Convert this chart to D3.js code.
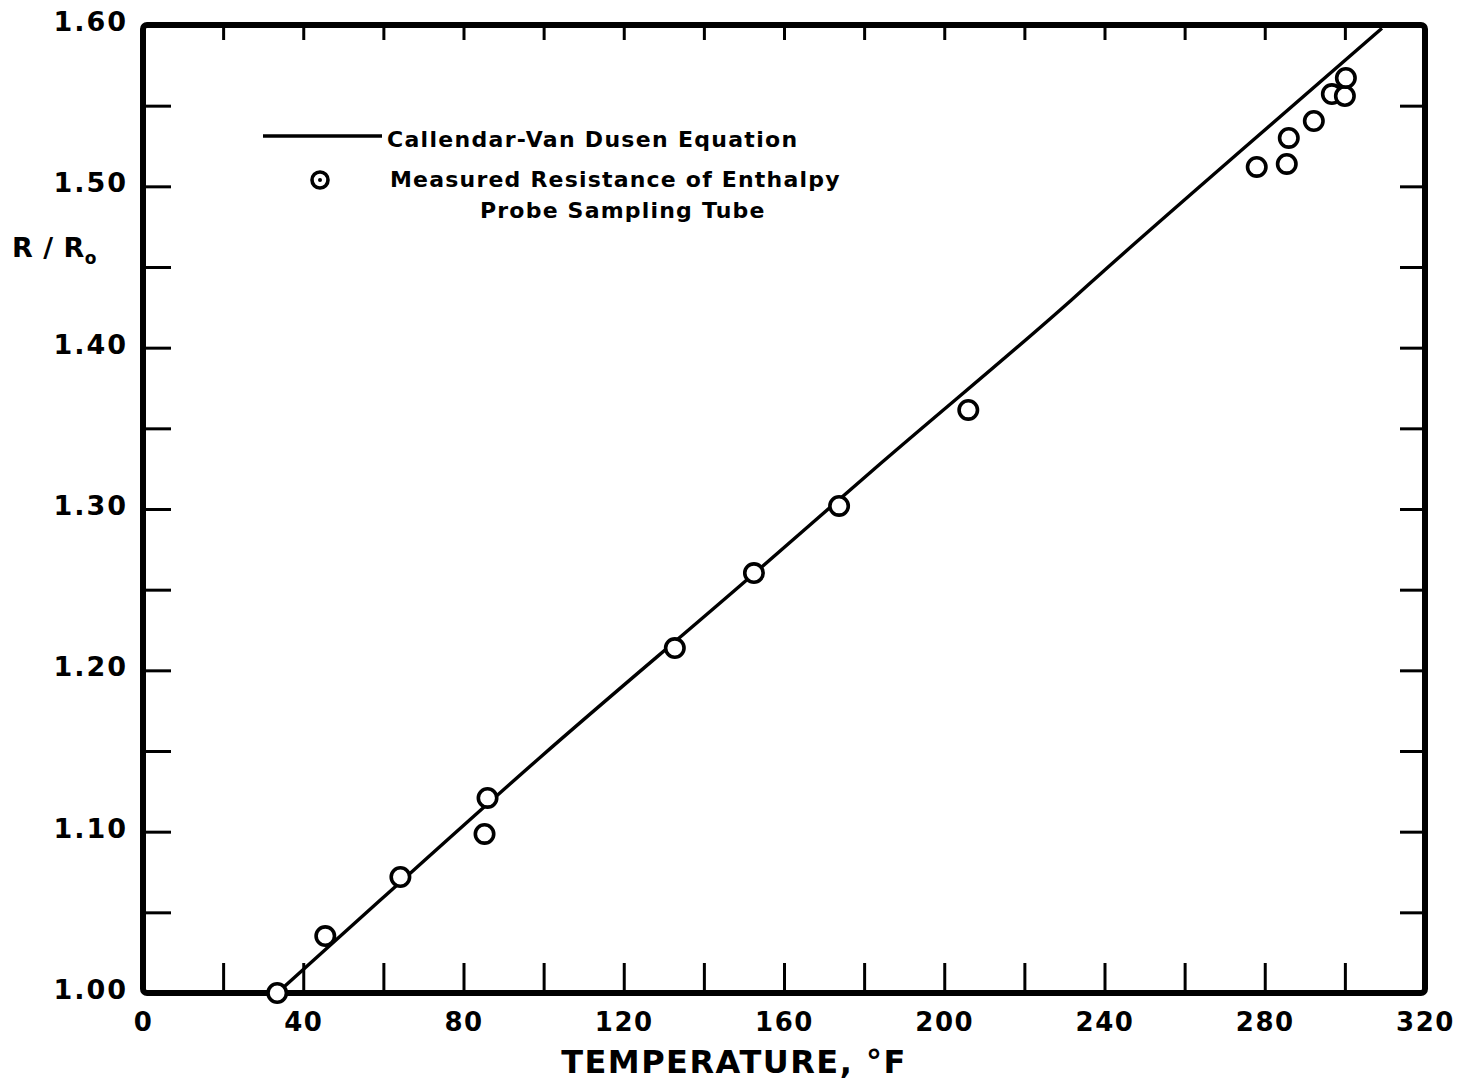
<!DOCTYPE html>
<html>
<head>
<meta charset="utf-8">
<script src="https://cdn.jsdelivr.net/npm/d3@7"></script>
<style>
  html, body { margin: 0; padding: 0; background: #fff; }
  svg { display: block; }
  text { font-family: "DejaVu Sans", "Liberation Sans", sans-serif; font-weight: bold; fill: #000; }
</style>
</head>
<body>
<svg id="chart" width="1461" height="1082"></svg>
<script>
// Callendar-Van Dusen curve, temperature (°F) vs. R/R0
const curveTemp  = [33.5, 59.25, 99.25, 149.25, 184.25, 231.75, 239.25, 274.25, 309.25];
const curveRatio = [1.000, 1.0576, 1.1463, 1.2529, 1.3285, 1.4296, 1.4463, 1.5225, 1.598];

// Measured resistance of the enthalpy probe sampling tube
const measTemp  = [33.5, 45.5, 64.25, 86.0, 85.25, 132.75, 152.5, 173.75, 206.0,
                   278.0, 285.5, 286.0, 292.25, 296.75, 300.0, 300.25];
const measRatio = [1.000, 1.0353, 1.0719, 1.1209, 1.0986, 1.2138, 1.2603, 1.3019, 1.3614,
                   1.512, 1.5139, 1.530, 1.5405, 1.5572, 1.556, 1.5672];

// Axis ticks and labels
const xMinorTicks = [20, 40, 60, 80, 100, 120, 140, 160, 180, 200, 220, 240, 260, 280, 300];
const xLabels     = [0, 40, 80, 120, 160, 200, 240, 280, 320];
const yMinorTicks = [1.05, 1.10, 1.15, 1.20, 1.25, 1.30, 1.35, 1.40, 1.45, 1.50, 1.55];
const yLabels     = [1.00, 1.10, 1.20, 1.30, 1.40, 1.50, 1.60];

const legendEntries = ["Callendar-Van Dusen Equation", "Measured Resistance of Enthalpy", "Probe Sampling Tube"];

const svg = d3.select("#chart");
const plotL = 143, plotR = 1425, plotT = 25, plotB = 993;

const x = d3.scaleLinear().domain([0, 320]).range([plotL, plotR]);
const y = d3.scaleLinear().domain([1.0, 1.6]).range([plotB, plotT]);

// Tick marks on all four sides
function styleTicks(g) {
  g.select(".domain").remove();
  g.selectAll(".tick line").attr("stroke", "#000").attr("stroke-width", 3);
  g.selectAll(".tick text").remove();
}
svg.append("g").attr("transform", `translate(0,${plotB})`)
  .call(d3.axisTop(x).tickValues(xMinorTicks).tickSize(30)).call(styleTicks);
svg.append("g").attr("transform", `translate(0,${plotT})`)
  .call(d3.axisBottom(x).tickValues(xMinorTicks).tickSize(15)).call(styleTicks);
svg.append("g").attr("transform", `translate(${plotL},0)`)
  .call(d3.axisRight(y).tickValues(yMinorTicks).tickSize(28)).call(styleTicks);
svg.append("g").attr("transform", `translate(${plotR},0)`)
  .call(d3.axisLeft(y).tickValues(yMinorTicks).tickSize(25)).call(styleTicks);

// Tick labels
const xl = svg.append("g").attr("transform", `translate(0,${plotB})`)
  .call(d3.axisBottom(x).tickValues(xLabels).tickSize(0).tickPadding(0).tickFormat(d3.format("d")));
xl.select(".domain").remove();
xl.selectAll(".tick text")
  .attr("y", 38).attr("dy", null)
  .attr("font-size", 26).attr("letter-spacing", 1.5)
  .attr("font-family", "'DejaVu Sans', sans-serif").attr("font-weight", "bold").attr("fill", "#000");

const yl = svg.append("g").attr("transform", `translate(${plotL},0)`)
  .call(d3.axisLeft(y).tickValues(yLabels).tickSize(0).tickPadding(15).tickFormat(d3.format(".2f")));
yl.select(".domain").remove();
yl.selectAll(".tick text")
  .attr("dy", "0.2em")
  .attr("font-size", 27).attr("letter-spacing", 2)
  .attr("font-family", "'DejaVu Sans', sans-serif").attr("font-weight", "bold").attr("fill", "#000");

// Plot frame
svg.append("rect")
  .attr("x", plotL).attr("y", plotT)
  .attr("width", plotR - plotL).attr("height", plotB - plotT)
  .attr("rx", 4)
  .attr("fill", "none").attr("stroke", "#000").attr("stroke-width", 6);

// Equation curve
const line = d3.line().x(d => x(d[0])).y(d => y(d[1])).curve(d3.curveMonotoneX);
svg.append("path")
  .datum(curveTemp.map((t, i) => [t, curveRatio[i]]))
  .attr("d", line)
  .attr("fill", "none").attr("stroke", "#000").attr("stroke-width", 3.4);

// Measured points
svg.append("g").selectAll("circle")
  .data(measTemp.map((t, i) => [t, measRatio[i]]))
  .join("circle")
  .attr("cx", d => x(d[0])).attr("cy", d => y(d[1]))
  .attr("r", 9.2)
  .attr("fill", "#fff").attr("stroke", "#000").attr("stroke-width", 3.6);

// Legend
const lg = svg.append("g");
lg.append("line").attr("x1", 263).attr("x2", 382).attr("y1", 136).attr("y2", 136)
  .attr("stroke", "#000").attr("stroke-width", 3.4);
lg.append("circle").attr("cx", 320).attr("cy", 180).attr("r", 8)
  .attr("fill", "#fff").attr("stroke", "#000").attr("stroke-width", 3.6);
lg.append("circle").attr("cx", 320).attr("cy", 180).attr("r", 2).attr("fill", "#000");
lg.append("text").attr("x", 387).attr("y", 147).attr("font-size", 22).attr("letter-spacing", 1.3)
  .text(legendEntries[0]);
lg.append("text").attr("x", 390).attr("y", 187).attr("font-size", 22).attr("letter-spacing", 1.2)
  .text(legendEntries[1]);
lg.append("text").attr("x", 480).attr("y", 218).attr("font-size", 22).attr("letter-spacing", 1.2)
  .text(legendEntries[2]);

// Axis titles
svg.append("text")
  .attr("x", 734).attr("y", 1073).attr("text-anchor", "middle")
  .attr("font-size", 32).attr("letter-spacing", 1.5)
  .text("TEMPERATURE, °F");

const yt = svg.append("text").attr("x", 12).attr("y", 257).attr("font-size", 27).attr("letter-spacing", 0.5);
yt.append("tspan").text("R / R");
yt.append("tspan").attr("font-size", 17).attr("dy", 7).text("o");
</script>
</body>
</html>
